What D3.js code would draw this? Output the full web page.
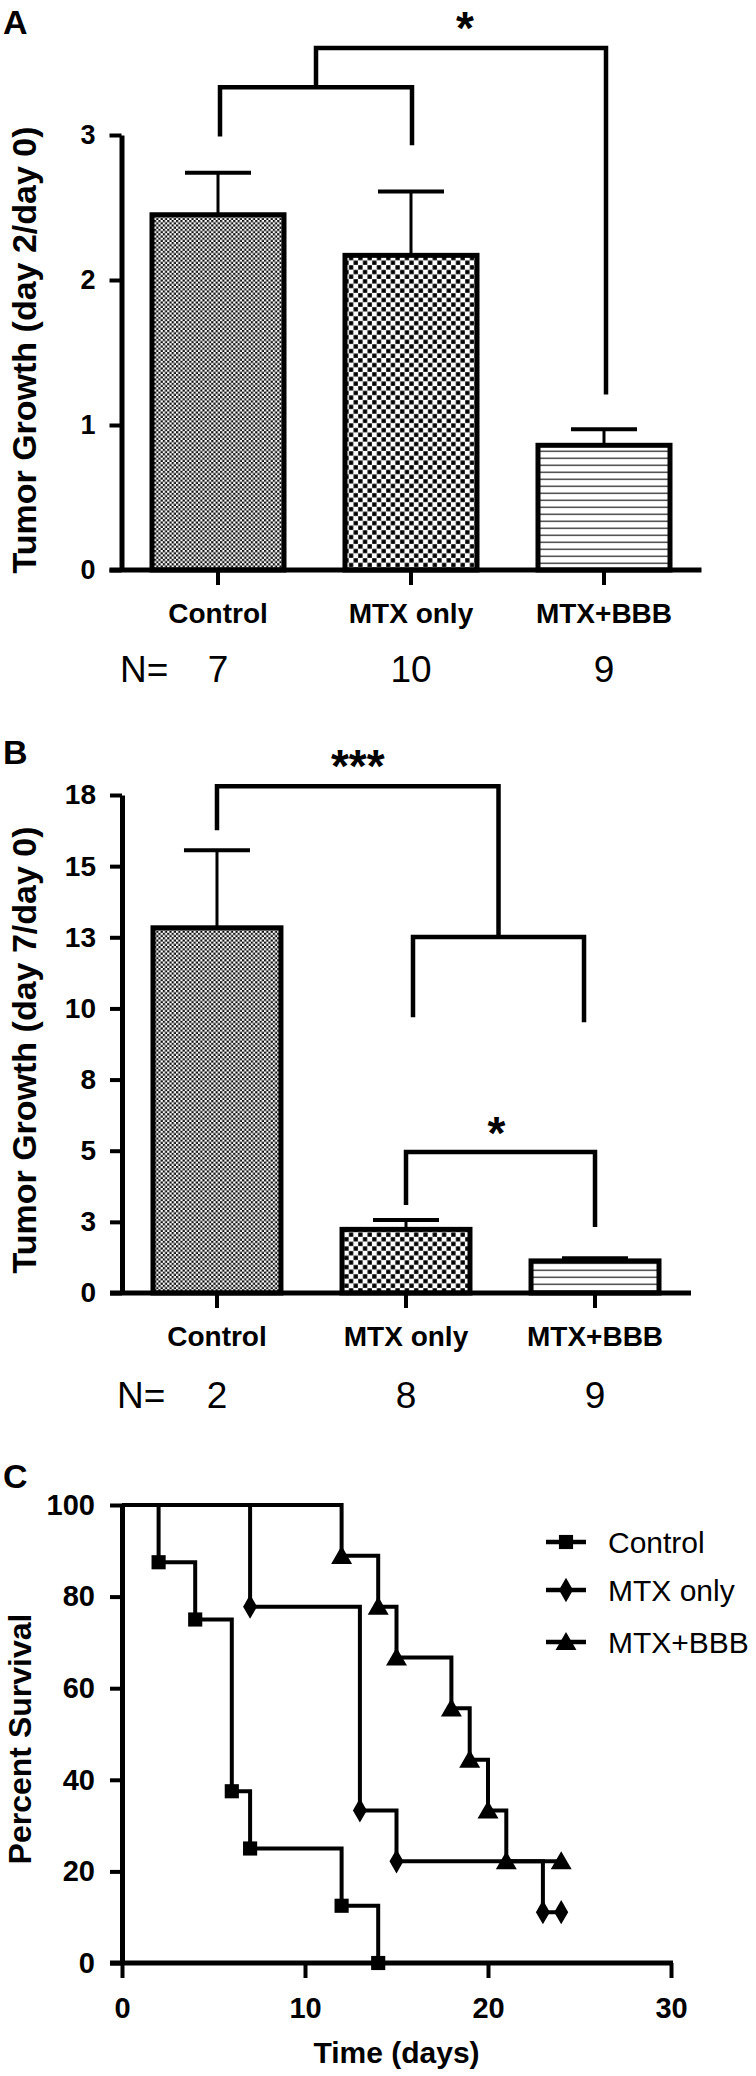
<!DOCTYPE html>
<html>
<head>
<meta charset="utf-8">
<script src="https://cdn.jsdelivr.net/npm/d3@7"></script>
<style>
  body { margin: 0; background: #fff; }
  svg { display: block; }
  text { font-family: "Liberation Sans", Arial, sans-serif; fill: #000; }
</style>
</head>
<body>
<svg id="chart" width="756" height="2076"></svg>
<script>
// ---------------- DATA ----------------
const categories = ["Control", "MTX only", "MTX+BBB"];

// Panel A: tumor growth day 2 / day 0
const growthDay2 = [2.45, 2.17, 0.86];
const semDay2 = [0.29, 0.44, 0.11];
const nDay2 = [7, 10, 9];
const yTicksA = [0, 1, 2, 3];

// Panel B: tumor growth day 7 / day 0
const growthDay7 = [13.2, 2.3, 1.16];
const semDay7 = [2.8, 0.34, 0.10];
const nDay7 = [2, 8, 9];
const yTickLabelsB = ["0", "3", "5", "8", "10", "13", "15", "18"];

// Panel C: Kaplan-Meier survival [day, percent]
const survivalControl = [[0, 100], [2, 87.5], [4, 75], [6, 37.5], [7, 25], [12, 12.5], [14, 0]];
const survivalMTX = [[0, 100], [7, 77.8], [13, 33.3], [15, 22.2], [23, 11.1], [24, 11.1]];
const survivalBBB = [[0, 100], [12, 88.9], [14, 77.8], [15, 66.7], [18, 55.6], [19, 44.4], [20, 33.3], [21, 22.2], [24, 22.2]];
const survivalSeries = ["Control", "MTX only", "MTX+BBB"];
const xTicksC = [0, 10, 20, 30];
const yTicksC = [0, 20, 40, 60, 80, 100];

// significance brackets (values in data units)
const sigA = { pairLevel: 3.33, pairEnds: [2.99, 2.93], topLevel: 3.60, topRightEnd: 1.21, label: "*" };
const sigB = { topLevel: 18.32, topLeftEnd: 16.73, innerLevel: 12.87, innerEnds: [9.97, 9.79], label: "***",
               smallLevel: 5.10, smallEnds: [3.18, 2.39], smallLabel: "*" };

// ---------------- DRAWING ----------------
const svg = d3.select("#chart");
const defs = svg.append("defs");

// patterns
const p1 = defs.append("pattern").attr("id", "patFine").attr("patternUnits", "userSpaceOnUse")
  .attr("width", 4.4).attr("height", 4.4);
p1.append("rect").attr("width", 4.4).attr("height", 4.4).attr("fill", "#fff");
p1.append("rect").attr("x", 0).attr("y", 0).attr("width", 2.2).attr("height", 2.2).attr("fill", "#111");
p1.append("rect").attr("x", 2.2).attr("y", 2.2).attr("width", 2.2).attr("height", 2.2).attr("fill", "#111");

const p2 = defs.append("pattern").attr("id", "patCheck").attr("patternUnits", "userSpaceOnUse")
  .attr("width", 9.3).attr("height", 9.3);
p2.append("rect").attr("width", 9.3).attr("height", 9.3).attr("fill", "#fff");
p2.append("rect").attr("x", 0.2).attr("y", 0.2).attr("width", 4.3).attr("height", 4.3).attr("fill", "#000");
p2.append("rect").attr("x", 4.85).attr("y", 4.85).attr("width", 4.3).attr("height", 4.3).attr("fill", "#000");

const p3 = defs.append("pattern").attr("id", "patLines").attr("patternUnits", "userSpaceOnUse")
  .attr("width", 10).attr("height", 7);
p3.append("rect").attr("width", 10).attr("height", 7).attr("fill", "#fff");
p3.append("rect").attr("x", 0).attr("y", 2.5).attr("width", 10).attr("height", 1.6).attr("fill", "#555");

const fills = ["url(#patFine)", "url(#patCheck)", "url(#patLines)"];

function panelLabel(t, x, y) {
  svg.append("text").attr("x", x).attr("y", y).attr("font-size", 34).attr("font-weight", "bold").text(t);
}

function barPanel(opts) {
  const g = svg.append("g");
  const x = d3.scaleBand().domain(categories).range(opts.xRange)
    .paddingInner(opts.padIn).paddingOuter(opts.padOut);
  const y = d3.scaleLinear().domain(opts.yDomain).range(opts.yRange);
  const axisX = opts.xRange[0];

  // bars
  g.selectAll("rect.bar").data(categories).join("rect")
    .attr("x", d => x(d)).attr("width", x.bandwidth())
    .attr("y", (d, i) => y(opts.values[i]))
    .attr("height", (d, i) => y(0) - y(opts.values[i]))
    .attr("fill", (d, i) => fills[i])
    .attr("stroke", "#000").attr("stroke-width", 5);

  // error bars
  const eb = g.selectAll("g.err").data(categories).join("g");
  eb.append("line")
    .attr("x1", d => x(d) + x.bandwidth() / 2).attr("x2", d => x(d) + x.bandwidth() / 2)
    .attr("y1", (d, i) => y(opts.values[i])).attr("y2", (d, i) => y(opts.values[i] + opts.errors[i]))
    .attr("stroke", "#000").attr("stroke-width", 3);
  eb.append("line")
    .attr("x1", d => x(d) + x.bandwidth() / 2 - 33).attr("x2", d => x(d) + x.bandwidth() / 2 + 33)
    .attr("y1", (d, i) => y(opts.values[i] + opts.errors[i])).attr("y2", (d, i) => y(opts.values[i] + opts.errors[i]))
    .attr("stroke", "#000").attr("stroke-width", 4);

  // y axis
  const ya = g.append("g").attr("transform", `translate(${axisX},0)`)
    .call(opts.yAxis(d3.axisLeft(y)).tickSize(12).tickSizeOuter(0).tickPadding(14));
  ya.select(".domain").attr("stroke-width", 5);
  ya.selectAll(".tick line").attr("stroke-width", 4);
  ya.selectAll(".tick text").attr("font-size", opts.tickFont).attr("font-weight", "bold")
    .attr("font-family", "Liberation Sans, Arial, sans-serif");

  // x axis
  const xa = g.append("g").attr("transform", `translate(0,${y(0)})`)
    .call(d3.axisBottom(x).tickSize(15).tickSizeOuter(0).tickPadding(18));
  xa.select(".domain").remove();
  xa.selectAll(".tick line").attr("stroke-width", 4);
  xa.selectAll(".tick text").attr("font-size", 28).attr("font-weight", "bold")
    .attr("font-family", "Liberation Sans, Arial, sans-serif");
  g.append("line").attr("x1", axisX - 12).attr("x2", opts.xRange[1] + 1)
    .attr("y1", y(0)).attr("y2", y(0)).attr("stroke", "#000").attr("stroke-width", 5);

  // y title
  g.append("text")
    .attr("transform", `translate(${opts.titleX},${opts.titleY}) rotate(-90)`)
    .attr("text-anchor", "middle").attr("font-size", 34).attr("font-weight", "bold")
    .text(opts.title);

  // N row
  g.append("text").attr("x", opts.nX).attr("y", opts.nY).attr("font-size", 37).text("N=");
  g.selectAll("text.n").data(categories).join("text").attr("class", "n")
    .attr("x", d => x(d) + x.bandwidth() / 2).attr("y", opts.nY)
    .attr("text-anchor", "middle").attr("font-size", 37)
    .text((d, i) => opts.ns[i]);

  return { g, x, y };
}

function bracketPath(g, pts) {
  g.append("path").attr("d", d3.line()(pts)).attr("fill", "none")
    .attr("stroke", "#000").attr("stroke-width", 4.5).attr("stroke-linejoin", "miter");
}
function star(g, t, cx, by) {
  g.append("text").attr("x", cx).attr("y", by).attr("text-anchor", "middle")
    .attr("font-size", 46).attr("font-weight", "bold").text(t);
}

// ---- Panel A ----
panelLabel("A", 3, 34);
const A = barPanel({
  xRange: [121.5, 700.5], padIn: 0.316, padOut: 0.158,
  yDomain: [0, 3], yRange: [570, 135],
  values: growthDay2, errors: semDay2, ns: nDay2,
  yAxis: a => a.tickValues(yTicksA).tickFormat(d3.format("d")),
  tickFont: 27, title: "Tumor Growth (day 2/day 0)", titleX: 36, titleY: 350,
  nX: 120, nY: 682
});
{
  const cx = c => A.x(c) + A.x.bandwidth() / 2;
  const xl = cx("Control") + 2, xr = cx("MTX only") + 1, xb = cx("MTX+BBB") + 2;
  bracketPath(A.g, [[xl, A.y(sigA.pairEnds[0])], [xl, A.y(sigA.pairLevel)], [xr, A.y(sigA.pairLevel)], [xr, A.y(sigA.pairEnds[1])]]);
  const xm = (xl + xr) / 2;
  bracketPath(A.g, [[xm, A.y(sigA.pairLevel)], [xm, A.y(sigA.topLevel)], [xb, A.y(sigA.topLevel)], [xb, A.y(sigA.topRightEnd)]]);
  star(A.g, sigA.label, (xm + xb) / 2 + 4, A.y(sigA.topLevel) - 4);
}

// ---- Panel B ----
panelLabel("B", 3, 764);
const tickValsB = yTickLabelsB.map((d, i) => i * 18 / (yTickLabelsB.length - 1));
const B = barPanel({
  xRange: [122, 690], padIn: 0.323, padOut: 0.164,
  yDomain: [0, 18], yRange: [1293, 795],
  values: growthDay7, errors: semDay7, ns: nDay7,
  yAxis: a => a.tickValues(tickValsB).tickFormat((d, i) => yTickLabelsB[i]),
  tickFont: 28, title: "Tumor Growth (day 7/day 0)", titleX: 36, titleY: 1050,
  nX: 117, nY: 1408
});
{
  const cx = c => B.x(c) + B.x.bandwidth() / 2;
  const xc = cx("Control"), xm1 = cx("MTX only"), xb = cx("MTX+BBB");
  const il = xm1 + 7, ir = xb - 11;
  const imid = (il + ir) / 2;
  bracketPath(B.g, [[il, B.y(sigB.innerEnds[0])], [il, B.y(sigB.innerLevel)], [ir, B.y(sigB.innerLevel)], [ir, B.y(sigB.innerEnds[1])]]);
  bracketPath(B.g, [[xc, B.y(sigB.topLeftEnd)], [xc, B.y(sigB.topLevel)], [imid, B.y(sigB.topLevel)], [imid, B.y(sigB.innerLevel)]]);
  star(B.g, sigB.label, (xc + imid) / 2, B.y(sigB.topLevel) - 4);
  bracketPath(B.g, [[xm1, B.y(sigB.smallEnds[0])], [xm1, B.y(sigB.smallLevel)], [xb, B.y(sigB.smallLevel)], [xb, B.y(sigB.smallEnds[1])]]);
  star(B.g, sigB.smallLabel, (xm1 + xb) / 2 - 4, B.y(sigB.smallLevel) - 3);
}

// ---- Panel C ----
panelLabel("C", 3, 1488);
{
  const g = svg.append("g");
  const x = d3.scaleLinear().domain([0, 30]).range([122, 671]);
  const y = d3.scaleLinear().domain([0, 100]).range([1963, 1505]);

  const ya = g.append("g").attr("transform", `translate(${x(0)},0)`)
    .call(d3.axisLeft(y).tickValues(yTicksC).tickSize(12).tickSizeOuter(0).tickPadding(15));
  ya.select(".domain").attr("stroke-width", 5);
  ya.selectAll(".tick line").attr("stroke-width", 4);
  ya.selectAll(".tick text").attr("font-size", 29).attr("font-weight", "bold")
    .attr("font-family", "Liberation Sans, Arial, sans-serif");

  const xa = g.append("g").attr("transform", `translate(0,${y(0)})`)
    .call(d3.axisBottom(x).tickValues(xTicksC).tickSize(15).tickSizeOuter(0).tickPadding(19));
  xa.select(".domain").remove();
  xa.selectAll(".tick line").attr("stroke-width", 4);
  xa.selectAll(".tick text").attr("font-size", 29).attr("font-weight", "bold")
    .attr("font-family", "Liberation Sans, Arial, sans-serif");
  g.append("line").attr("x1", x(0) - 12).attr("x2", x(30) + 2).attr("y1", y(0)).attr("y2", y(0))
    .attr("stroke", "#000").attr("stroke-width", 5);

  g.append("text").attr("transform", `translate(31,1739) rotate(-90)`)
    .attr("text-anchor", "middle").attr("font-size", 32).attr("font-weight", "bold").text("Percent Survival");
  g.append("text").attr("x", (x(0) + x(30)) / 2 + 0).attr("y", 2063)
    .attr("text-anchor", "middle").attr("font-size", 30).attr("font-weight", "bold").text("Time (days)");

  const series = [survivalControl, survivalMTX, survivalBBB];
  const symbols = [d3.symbolSquare, d3.symbolDiamond, d3.symbolTriangle];
  const sizes = [200, 170, 190];
  const line = d3.line().x(d => x(d[0])).y(d => y(d[1])).curve(d3.curveStepAfter);

  series.forEach((s, k) => {
    g.append("path").attr("d", line(s)).attr("fill", "none").attr("stroke", "#000")
      .attr("stroke-width", 4).attr("stroke-linejoin", "miter");
  });
  series.forEach((s, k) => {
    g.selectAll(null).data(s.slice(1)).join("path")
      .attr("transform", d => `translate(${x(d[0])},${y(d[1]) + (k === 2 ? 2 : 0)})`)
      .attr("d", d3.symbol().type(symbols[k]).size(sizes[k]))
      .attr("fill", "#000");
  });

  // legend
  const legY = [1542, 1590, 1642];
  survivalSeries.forEach((name, k) => {
    g.append("line").attr("x1", 546).attr("x2", 586).attr("y1", legY[k]).attr("y2", legY[k])
      .attr("stroke", "#000").attr("stroke-width", 4.5);
    g.append("path").attr("transform", `translate(566,${legY[k] + (k === 2 ? 2 : 0)})`)
      .attr("d", d3.symbol().type(symbols[k]).size(sizes[k])).attr("fill", "#000");
    g.append("text").attr("x", 608).attr("y", legY[k] + 11).attr("font-size", 30).text(name);
  });
}
</script>
</body>
</html>
